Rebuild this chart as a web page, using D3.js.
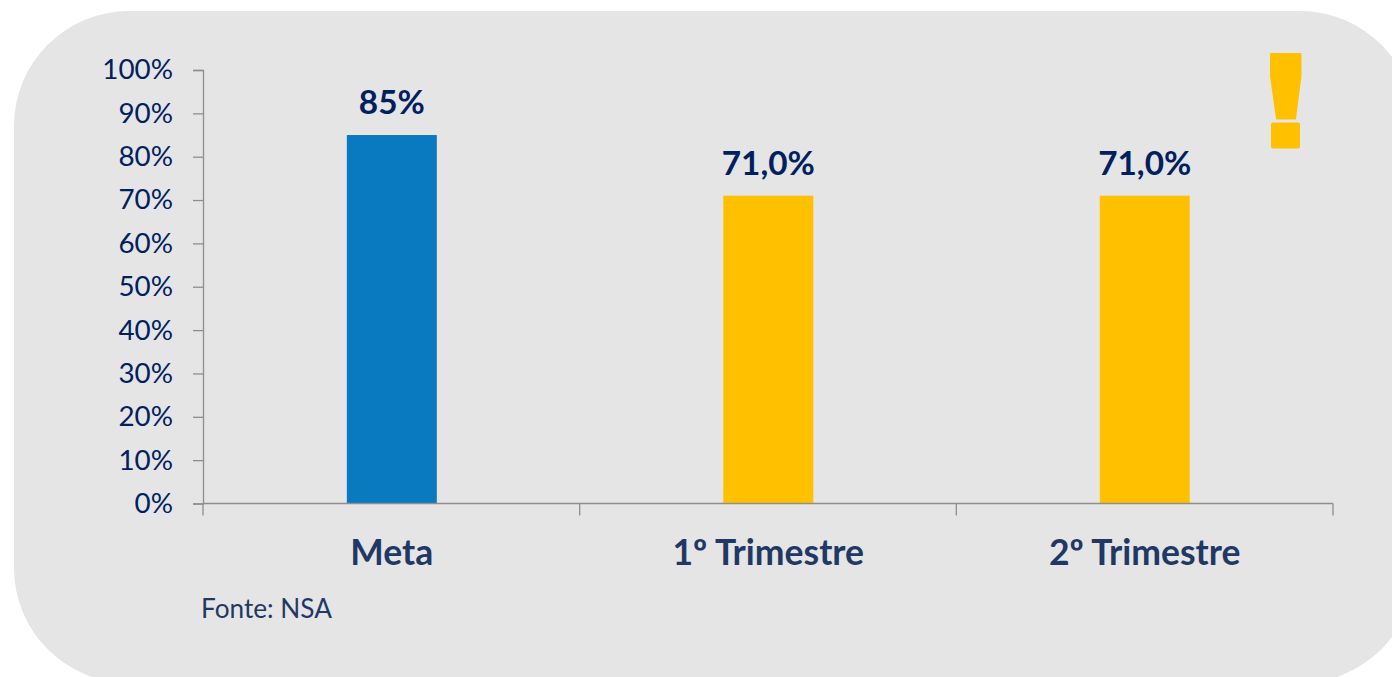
<!DOCTYPE html>
<html><head><meta charset="utf-8">
<script src="https://cdn.jsdelivr.net/npm/d3@7/dist/d3.min.js"></script>
<style>html,body{margin:0;padding:0;background:#fff;overflow:hidden}svg{display:block}text{font-family:Lato,"Open Sans",sans-serif}</style>
</head><body>
<script>
const categories = ["Meta", "1º Trimestre", "2º Trimestre"];
const values = [85, 71, 71];
const valueLabels = ["85%", "71,0%", "71,0%"];
const barColors = ["#0979C0", "#FFC000", "#FFC000"];
const yTicks = [0,10,20,30,40,50,60,70,80,90,100];
const source = "Fonte: NSA";

const svg = d3.select("body").append("svg").attr("width",1392).attr("height",677);
svg.append("rect").attr("x",14).attr("y",11).attr("width",1401).attr("height",672).attr("rx",115).attr("ry",115).attr("fill","#E5E5E5");

const axisRange = [203,1333];
const x = d3.scaleBand().domain(categories).range([203.6,1333]).paddingInner(0.761).paddingOuter(0.3805);
const y = d3.scaleLinear().domain([0,100]).range([503.5,70]);
const band = (axisRange[1]-axisRange[0])/categories.length;
const axisColor = "#8E8E8E";

svg.selectAll("rect.bar").data(categories).join("rect").attr("class","bar")
  .attr("x",d=>x(d)).attr("width",x.bandwidth())
  .attr("y",(d,i)=>y(values[i])).attr("height",(d,i)=>y(0)-y(values[i]))
  .attr("fill",(d,i)=>barColors[i]);

const yAxis = svg.append("g").attr("transform","translate(203,0)")
  .call(d3.axisLeft(y).tickValues(yTicks).tickFormat(d=>d+"%").tickSize(10).tickPadding(20));
yAxis.selectAll("path,line").attr("stroke",axisColor).attr("stroke-width",1.3);
yAxis.selectAll("text").attr("font-size",27.8).attr("fill","#002060").attr("dy","0.32em");

const edges = d3.range(categories.length+1).map(i=>axisRange[0]+i*band);
const xAxis = svg.append("g");
xAxis.append("line").attr("x1",axisRange[0]).attr("x2",axisRange[1]).attr("y1",y(0)).attr("y2",y(0)).attr("stroke",axisColor).attr("stroke-width",1.3);
xAxis.selectAll("line.t").data(edges).join("line").attr("class","t")
  .attr("x1",d=>d).attr("x2",d=>d).attr("y1",y(0)).attr("y2",y(0)+12).attr("stroke",axisColor).attr("stroke-width",1.3);

svg.selectAll("text.cat").data(categories).join("text").attr("class","cat")
  .attr("x",d=>x(d)+x.bandwidth()/2).attr("y",565).attr("text-anchor","middle")
  .attr("font-size",35.5).attr("font-weight",700).attr("fill","#1F3864").text(d=>d);

svg.selectAll("text.val").data(categories).join("text").attr("class","val")
  .attr("x",d=>x(d)+x.bandwidth()/2).attr("y",(d,i)=>y(values[i])-21).attr("text-anchor","middle")
  .attr("font-size",33.3).attr("font-weight",700).attr("fill","#002060").text((d,i)=>valueLabels[i]);

svg.append("text").attr("x",201).attr("y",618).attr("font-size",26.2).attr("fill","#1F3864").text(source);

// exclamation icon
const icon = svg.append("g").attr("fill","#FFC000").attr("stroke","#FFC000").attr("stroke-width",2).attr("stroke-linejoin","round");
icon.append("path").attr("d","M1271 54H1300.5V76L1295 118.5H1277L1271 76Z");
icon.append("rect").attr("x",1272).attr("y",123.5).attr("width",27).attr("height",24).attr("rx",1);
</script>
</body></html>
